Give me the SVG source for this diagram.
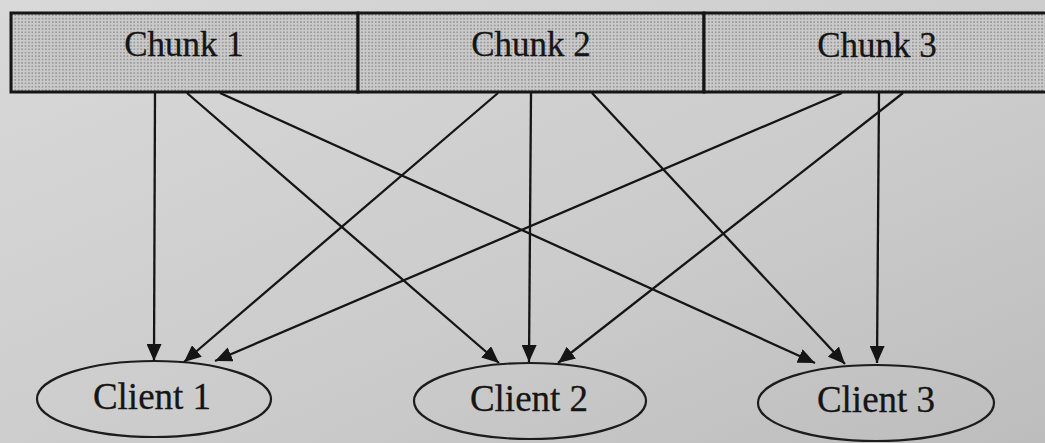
<svg xmlns="http://www.w3.org/2000/svg" width="1045" height="443" viewBox="0 0 1045 443">
  <defs>
    <linearGradient id="paper" x1="0" y1="0" x2="1" y2="1">
      <stop offset="0" stop-color="#d9d9d9"/>
      <stop offset="0.6" stop-color="#cbcbcb"/>
      <stop offset="1" stop-color="#bdbdbd"/>
    </linearGradient>
    <pattern id="stipple" width="3.4" height="3.4" patternUnits="userSpaceOnUse">
      <rect width="3.4" height="3.4" fill="#cacaca"/>
      <circle cx="1.7" cy="1.7" r="0.85" fill="#8a8a8a"/>
    </pattern>
    <marker id="arrow" viewBox="0 0 17 15" refX="17" refY="7.5" markerWidth="17" markerHeight="15" markerUnits="userSpaceOnUse" orient="auto">
      <path d="M0,0 L17,7.5 L0,15 Z" fill="#151515"/>
    </marker>
  </defs>
  <style>
    .chunk { fill: url(#stipple); stroke: #151515; stroke-width: 3; }
    .client { fill: none; stroke: #1c1c1c; stroke-width: 2.2; }
    .label { font-family: "Liberation Serif", "Times New Roman", serif; fill: #151515; text-anchor: middle; stroke: #151515; stroke-width: 0.3; }
    .clabel { font-size: 37px; }
    .klabel { font-size: 35px; }
    .edge { stroke: #151515; stroke-width: 2.3; fill: none; marker-end: url(#arrow); }
  </style>

  <rect width="1045" height="443" fill="url(#paper)"/>

  <!-- chunk bar -->
  <g id="chunk1">
    <rect class="chunk" x="11" y="13" width="347" height="79"/>
    <text class="label klabel" x="184" y="56">Chunk 1</text>
  </g>
  <g id="chunk2">
    <rect class="chunk" x="358" y="13" width="346" height="79"/>
    <text class="label klabel" x="531" y="56">Chunk 2</text>
  </g>
  <g id="chunk3">
    <rect class="chunk" x="704" y="13" width="346" height="79"/>
    <text class="label klabel" x="877" y="57">Chunk 3</text>
  </g>

  <!-- clients -->
  <g id="client1">
    <ellipse class="client" cx="154" cy="399" rx="117" ry="38"/>
    <text class="label clabel" x="152" y="409">Client 1</text>
  </g>
  <g id="client2">
    <ellipse class="client" cx="530" cy="401" rx="116" ry="38"/>
    <text class="label clabel" x="529" y="411">Client 2</text>
  </g>
  <g id="client3">
    <ellipse class="client" cx="876" cy="403" rx="118" ry="38"/>
    <text class="label clabel" x="876" y="412">Client 3</text>
  </g>

  <!-- connectors: every chunk goes to every client -->
  <g id="connectors">
    <line class="edge" x1="155" y1="93" x2="154" y2="361"/>
    <line class="edge" x1="187" y1="93" x2="499" y2="363"/>
    <line class="edge" x1="220" y1="93" x2="815" y2="363"/>
    <line class="edge" x1="498" y1="93" x2="184" y2="362"/>
    <line class="edge" x1="531" y1="93" x2="529" y2="362"/>
    <line class="edge" x1="592" y1="93" x2="845" y2="364"/>
    <line class="edge" x1="842" y1="93" x2="215" y2="361"/>
    <line class="edge" x1="903" y1="93" x2="558" y2="363"/>
    <line class="edge" x1="879" y1="93" x2="877" y2="363"/>
  </g>
</svg>
